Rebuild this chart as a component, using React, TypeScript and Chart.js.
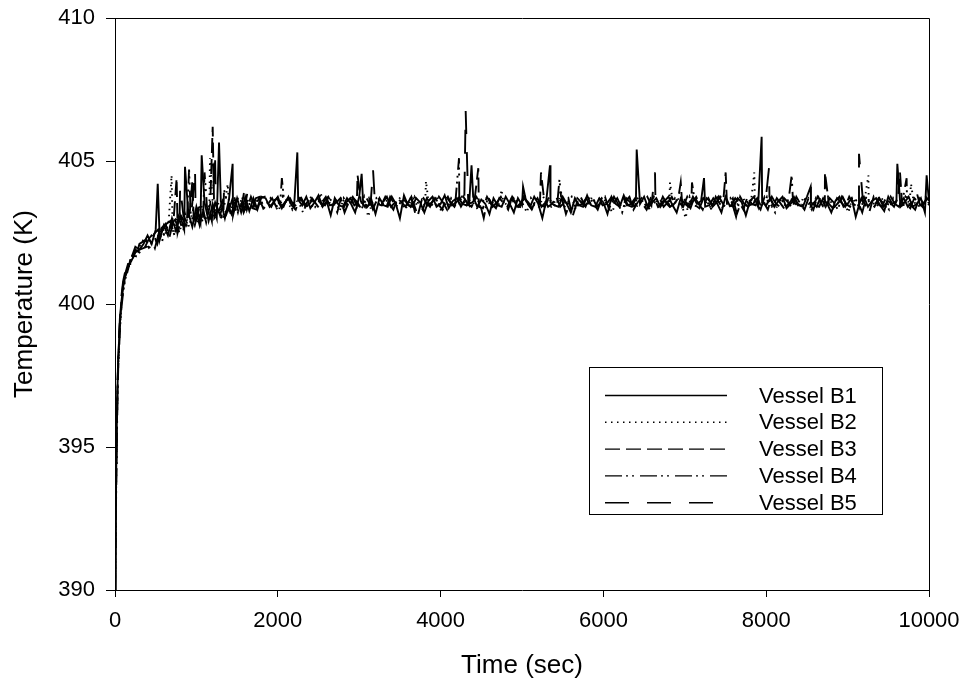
import React, { useEffect, useRef } from "react";
import { Chart, registerables } from "chart.js";

Chart.register(...registerables);

// ---- data ----
const TIMES_EARLY = [0, 10, 20, 30, 40, 60, 80, 100, 130, 160, 200, 250, 300];
const TIME_STEP = 50; // regular sampling after 300 s
const TIME_END = 10000;
const SAMPLE_OFFSETS = [0, 10, 20, 30, 40]; // per-vessel logging offset (s) after 300 s

const LABELS = ["Vessel B1", "Vessel B2", "Vessel B3", "Vessel B4", "Vessel B5"];
const X_TICKS = [0, 2000, 4000, 6000, 8000, 10000];
const Y_TICKS = [390, 395, 400, 405, 410];

// base traces on the sampling grid
const B1 = [
  390.0, 393.0, 395.4, 397.0, 398.0, 399.3, 400.1, 400.6, 401.0, 401.3, 401.5, 401.8, 401.9,
  402.1, 402.4, 402.1, 402.6, 402.25, 402.75, 402.4, 403.0, 402.55, 403.1,
  402.6, 403.2, 402.7, 403.4, 402.85, 403.55, 402.9, 403.5, 403.0, 403.6,
  403.0, 403.65, 403.1, 403.7, 403.2, 403.75, 403.25, 403.7, 403.3, 403.75,
  403.7, 403.4, 403.55, 403.75, 403.35, 403.6, 403.7, 403.4, 403.65, 403.45,
  403.75, 403.35, 403.55, 403.8, 403.4, 403.6, 403.1, 403.7, 403.45, 403.4,
  403.7, 403.5, 403.2, 403.75, 403.45, 403.4, 403.65, 403.15, 403.7, 403.45,
  403.4, 403.75, 403.5, 403.0, 403.8, 403.45, 403.4, 403.7, 403.55, 403.2,
  403.6, 403.75, 403.4, 403.5, 403.8, 403.35, 403.6, 403.7, 403.4, 403.65,
  403.45, 403.75, 403.4, 403.65, 403.5, 403.15, 403.7, 403.45, 403.4, 403.75,
  403.5, 403.2, 403.7, 403.45, 403.6, 403.4, 403.75, 403.5, 403.0, 403.65,
  403.55, 403.45, 403.4, 403.75, 403.5, 403.2, 403.7, 403.45, 403.4, 403.8,
  403.45, 403.4, 403.7, 403.55, 403.15, 403.75, 403.5, 403.4, 403.8, 403.45,
  403.4, 403.7, 403.5, 403.75, 403.35, 403.55, 403.7, 403.4, 403.6, 403.75,
  403.45, 403.2, 403.7, 403.5, 403.4, 403.75, 403.5, 403.6, 403.4, 403.45,
  403.7, 403.5, 403.2, 403.75, 403.45, 403.4, 403.7, 403.55, 403.1, 403.6,
  403.75, 403.4, 403.55, 403.45, 403.7, 403.4, 403.6, 403.75, 403.35, 403.5,
  403.7, 403.45, 403.4, 403.75, 403.55, 403.45, 403.4, 403.7, 403.5, 403.2,
  403.6, 403.75, 403.4, 403.5, 403.7, 403.05, 403.55, 403.75, 403.4, 403.6,
  403.7, 403.45, 403.25, 403.75, 403.5, 403.6, 403.4, 403.55, 403.75, 403.4,
  403.5, 403.7, 403.2, 403.6,
];

const B2 = [
  390.0, 392.6, 395.0, 396.8, 397.9, 399.2, 400.0, 400.5, 400.9, 401.2, 401.6, 401.7, 402.0,
  402.3, 402.0, 402.5, 402.2, 402.7, 402.35, 402.9, 402.45, 403.0, 402.6,
  403.15, 402.7, 403.3, 402.8, 403.45, 402.9, 403.5, 403.05, 403.6, 403.1,
  403.65, 403.1, 403.7, 403.2, 403.75, 403.25, 403.7, 403.3, 403.75, 403.35,
  403.45, 403.7, 403.45, 403.25, 403.75, 403.5, 403.4, 403.65, 403.55, 403.2,
  403.55, 403.75, 403.4, 403.6, 403.45, 403.7, 403.4, 403.6, 403.25, 403.7,
  403.45, 403.65, 403.5, 403.4, 403.75, 403.05, 403.55, 403.7, 403.4, 403.5,
  403.7, 403.4, 403.55, 403.75, 403.3, 403.5, 403.7, 403.45, 403.6, 403.45,
  403.4, 403.55, 403.75, 403.2, 403.5, 403.7, 403.4, 403.6, 403.75, 403.4,
  403.65, 403.5, 403.3, 403.55, 403.75, 403.45, 403.6, 403.4, 403.7, 403.45,
  403.55, 403.75, 403.4, 403.5, 403.2, 403.7, 403.45, 403.4, 403.75, 403.5,
  403.4, 403.6, 403.7, 403.35, 403.55, 403.75, 403.3, 403.6, 403.5, 403.4,
  403.75, 403.5, 403.4, 403.65, 403.45, 403.2, 403.7, 403.5, 403.4, 403.75,
  403.5, 403.4, 403.7, 403.45, 403.3, 403.75, 403.55, 403.4, 403.65, 403.5,
  403.4, 403.7, 403.5, 403.0, 403.75, 403.45, 403.4, 403.7, 403.55, 403.4,
  403.6, 403.75, 403.4, 403.5, 403.7, 403.3, 403.55, 403.75, 403.45, 403.5,
  403.7, 403.55, 403.4, 403.75, 403.45, 403.2, 403.7, 403.5, 403.4, 403.65,
  403.5, 403.4, 403.75, 403.55, 403.3, 403.7, 403.45, 403.4, 403.75, 403.5,
  403.4, 403.7, 403.55, 403.2, 403.75, 403.5, 403.4, 403.65, 403.45, 403.55,
  403.4, 403.75, 403.5, 403.3, 403.7, 403.45, 403.4, 403.75, 403.5, 403.6,
  403.4, 403.55, 403.75, 403.45,
];

const B3 = [
  390.0, 392.8, 395.2, 396.9, 398.1, 399.4, 400.2, 400.7, 401.1, 401.4, 401.4, 401.9, 401.8,
  402.0, 402.3, 402.45, 402.1, 402.65, 402.8, 402.35, 402.95, 402.5, 403.05,
  402.75, 403.25, 402.8, 403.35, 403.45, 402.85, 403.5, 403.0, 403.2, 403.6,
  403.15, 403.6, 403.7, 403.2, 403.65, 403.3, 403.75, 403.4, 403.7, 403.35,
  403.55, 403.4, 403.7, 403.5, 403.4, 403.75, 403.45, 403.3, 403.7, 403.55,
  403.4, 403.7, 403.5, 403.3, 403.6, 403.75, 403.45, 403.55, 403.7, 403.2,
  403.55, 403.75, 403.45, 403.6, 403.4, 403.7, 403.3, 403.5, 403.45, 403.75,
  403.5, 403.3, 403.7, 403.55, 403.4, 403.75, 403.5, 403.1, 403.65, 403.55,
  403.4, 403.7, 403.5, 403.3, 403.75, 403.55, 403.4, 403.7, 403.5, 403.45,
  403.55, 403.7, 403.4, 403.35, 403.75, 403.5, 403.3, 403.7, 403.55, 403.4,
  403.7, 403.45, 403.4, 403.75, 403.5, 403.3, 403.65, 403.5, 403.7, 403.4,
  403.5, 403.75, 403.4, 403.55, 403.7, 403.05, 403.5, 403.75, 403.45, 403.55,
  403.7, 403.4, 403.55, 403.75, 403.3, 403.5, 403.7, 403.4, 403.6, 403.75,
  403.3, 403.55, 403.7, 403.45, 403.5, 403.75, 403.4, 403.55, 403.7, 403.4,
  403.5, 403.7, 403.4, 403.55, 403.35, 403.75, 403.5, 403.3, 403.7, 403.55,
  403.4, 403.75, 403.5, 403.35, 403.45, 403.7, 403.55, 403.3, 403.75, 403.5,
  403.45, 403.7, 403.55, 403.3, 403.75, 403.5, 403.4, 403.7, 403.55, 403.35,
  403.75, 403.5, 403.3, 403.7, 403.55, 403.4, 403.75, 403.45, 403.5, 403.35,
  403.7, 403.55, 403.4, 403.75, 403.5, 403.4, 403.7, 403.45, 403.25, 403.75,
  403.5, 403.4, 403.7, 403.55, 403.4, 403.75, 403.45, 403.5, 403.35, 403.7,
  403.55, 403.4, 403.7, 403.5,
];

const B4 = [
  390.0, 392.4, 394.8, 396.6, 397.8, 399.1, 399.9, 400.4, 401.0, 401.2, 401.7, 401.6, 402.1,
  402.25, 401.95, 402.45, 402.6, 402.2, 402.8, 402.9, 402.4, 403.05, 402.6,
  402.65, 403.15, 402.75, 403.3, 402.85, 403.4, 402.95, 403.55, 403.1, 402.95,
  403.55, 403.15, 403.65, 403.7, 403.2, 403.65, 403.3, 403.7, 403.75, 403.35,
  403.5, 403.7, 403.4, 403.55, 403.5, 403.75, 403.3, 403.5, 403.7, 403.45,
  403.6, 403.4, 403.75, 403.5, 403.45, 403.7, 403.55, 403.2, 403.75, 403.5,
  403.4, 403.7, 403.55, 403.3, 403.75, 403.5, 403.4, 403.7, 403.55, 403.35,
  403.75, 403.5, 403.4, 403.7, 403.55, 403.4, 403.75, 403.5, 403.3, 403.7,
  403.5, 403.4, 403.75, 403.55, 403.3, 403.7, 403.5, 403.4, 403.75, 403.5,
  403.4, 403.7, 403.55, 403.0, 403.75, 403.5, 403.35, 403.7, 403.55, 403.3,
  403.75, 403.5, 403.4, 403.7, 403.55, 403.3, 403.75, 403.45, 403.4, 403.7,
  403.5, 403.4, 403.75, 403.55, 403.5, 403.3, 403.7, 403.55, 403.4, 403.75,
  403.5, 403.3, 403.7, 403.55, 403.4, 403.75, 403.5, 403.2, 403.7, 403.55,
  403.4, 403.75, 403.5, 403.3, 403.7, 403.55, 403.4, 403.75, 403.5, 403.35,
  403.7, 403.55, 403.4, 403.75, 403.5, 403.45, 403.35, 403.7, 403.55, 403.3,
  403.75, 403.5, 403.4, 403.7, 403.55, 403.05, 403.75, 403.5, 403.4, 403.7,
  403.5, 403.3, 403.75, 403.55, 403.4, 403.7, 403.5, 403.3, 403.75, 403.55,
  403.5, 403.4, 403.7, 403.55, 403.3, 403.75, 403.5, 403.4, 403.7, 403.55,
  403.3, 403.75, 403.5, 403.4, 403.7, 403.55, 403.2, 403.75, 403.5, 403.4,
  403.7, 403.55, 403.35, 403.75, 403.5, 403.4, 403.7, 403.55, 403.45, 403.3,
  403.7, 403.5, 403.4, 403.65,
];

const B5 = [
  390.0, 392.9, 395.3, 397.1, 398.2, 399.5, 400.3, 400.8, 401.2, 401.5, 401.6, 402.0, 401.9,
  402.0, 402.3, 401.95, 402.5, 402.6, 402.3, 402.8, 402.95, 402.5, 403.1,
  402.8, 403.2, 403.3, 402.75, 403.4, 403.45, 402.9, 403.5, 403.1, 403.6,
  403.2, 403.65, 403.25, 403.7, 403.3, 403.75, 403.35, 403.3, 403.7, 403.75,
  403.45, 403.55, 403.7, 403.4, 403.55, 403.75, 403.45, 403.5, 403.7, 403.4,
  403.5, 403.7, 403.4, 403.55, 403.75, 403.45, 403.5, 403.7, 403.25, 403.55,
  403.7, 403.45, 403.55, 403.75, 403.4, 403.5, 403.7, 403.45, 403.55, 403.75,
  403.4, 403.55, 403.7, 403.45, 403.5, 403.75, 403.15, 403.55, 403.7, 403.45,
  403.55, 403.7, 403.4, 403.5, 403.75, 403.45, 403.55, 403.7, 403.4, 403.5,
  403.55, 403.75, 403.45, 403.5, 403.7, 403.4, 403.55, 403.75, 403.45, 403.5,
  403.7, 403.4, 403.55, 403.75, 403.45, 403.5, 403.7, 403.4, 403.55, 403.75,
  403.45, 403.5, 403.7, 403.15, 403.55, 403.75, 403.45, 403.5, 403.7, 403.4,
  403.55, 403.75, 403.45, 403.5, 403.7, 403.4, 403.55, 403.75, 403.45, 403.5,
  403.7, 403.4, 403.55, 403.75, 403.45, 403.5, 403.7, 403.4, 403.55, 403.75,
  403.45, 403.5, 403.7, 403.4, 403.55, 403.75, 403.45, 403.5, 403.7, 403.4,
  403.55, 403.75, 403.45, 403.5, 403.7, 403.15, 403.55, 403.75, 403.45, 403.5,
  403.7, 403.4, 403.55, 403.75, 403.45, 403.5, 403.7, 403.4, 403.55, 403.75,
  403.45, 403.5, 403.7, 403.4, 403.55, 403.75, 403.45, 403.5, 403.7, 403.4,
  403.55, 403.75, 403.45, 403.5, 403.7, 403.4, 403.55, 403.75, 403.45, 403.5,
  403.7, 403.4, 403.55, 403.75, 403.45, 403.5, 403.7, 403.4, 403.55, 403.75,
  403.45, 403.55, 403.7, 403.45,
];

// isolated spikes: times (s) and peak temperatures (K)
const B1_SPIKE_T = [525, 860, 1065, 1278, 1445, 2240, 3030, 4380, 5013, 5344, 6409, 7236, 7944, 8546, 9611, 9971];
const B1_SPIKE_V = [404.2, 404.8, 405.2, 405.65, 404.9, 405.3, 404.55, 404.85, 404.1, 404.85, 405.4, 404.4, 405.85, 404.1, 404.9, 404.5];
const B2_SPIKE_T = [695, 1167, 1384, 2527, 3820, 4750, 5475, 6818, 7854, 9255, 9779];
const B2_SPIKE_V = [404.5, 405.1, 404.2, 403.9, 404.3, 404.0, 404.0, 404.25, 404.6, 404.5, 404.2];
const B3_SPIKE_T = [757, 950, 1200, 1585, 2980, 4463, 5233, 6950, 7502, 8722, 9644];
const B3_SPIKE_V = [404.4, 404.3, 406.2, 403.9, 404.5, 404.75, 404.6, 404.25, 404.6, 404.6, 404.6];
const B4_SPIKE_T = [910, 1100, 1339, 2050, 4226, 5460, 7088, 8313, 9725];
const B4_SPIKE_V = [404.7, 404.6, 404.0, 404.4, 405.1, 404.35, 404.25, 404.5, 404.4];
const B5_SPIKE_T = [800, 983, 1228, 1630, 3170, 4308, 6634, 8034, 9140, 9840];
const B5_SPIKE_V = [404.1, 404.7, 405.3, 403.95, 404.7, 406.75, 404.6, 404.75, 405.25, 404.0];

const SERIES = [B1, B2, B3, B4, B5];
const SPIKE_T = [B1_SPIKE_T, B2_SPIKE_T, B3_SPIKE_T, B4_SPIKE_T, B5_SPIKE_T];
const SPIKE_V = [B1_SPIKE_V, B2_SPIKE_V, B3_SPIKE_V, B4_SPIKE_V, B5_SPIKE_V];
const DASHES: number[][] = [[], [1.5, 4.5], [15, 6], [17, 4, 2, 4, 2, 6], [24, 18]];

function buildTimes(offset: number): number[] {
  const out = TIMES_EARLY.slice();
  let t = TIMES_EARLY[TIMES_EARLY.length - 1] + TIME_STEP;
  while (t <= TIME_END) {
    out.push(t + offset);
    t += TIME_STEP;
  }
  return out;
}

function buildPoints(times: number[], vals: number[], st: number[], sv: number[]) {
  const pts = times.map((t, k) => ({ x: t, y: vals[k] }));
  st.forEach((t, k) => pts.push({ x: t, y: sv[k] }));
  pts.sort((a, b) => a.x - b.x);
  return pts;
}

const FONT_FAMILY = "'Liberation Sans', Arial, Helvetica, sans-serif";

const framePlugin = {
  id: "frame",
  afterDatasetsDraw(chart: any) {
    const { ctx, chartArea } = chart;
    ctx.save();
    ctx.strokeStyle = "#000";
    ctx.lineWidth = 1;
    ctx.beginPath();
    ctx.moveTo(Math.round(chartArea.left) + 0.5, Math.round(chartArea.top) + 0.5);
    ctx.lineTo(Math.round(chartArea.right) + 0.5, Math.round(chartArea.top) + 0.5);
    ctx.lineTo(Math.round(chartArea.right) + 0.5, Math.round(chartArea.bottom) + 0.5);
    ctx.stroke();
    ctx.restore();
  },
};

const legendPlugin = {
  id: "boxLegend",
  afterDraw(chart: any) {
    const { ctx, chartArea } = chart;
    const left = chartArea.left + 474;
    const top = chartArea.top + 349;
    const w = 293;
    const h = 147;
    ctx.save();
    ctx.fillStyle = "#fff";
    ctx.fillRect(left, top, w, h);
    ctx.strokeStyle = "#000";
    ctx.lineWidth = 1;
    ctx.setLineDash([]);
    ctx.strokeRect(Math.round(left) + 0.5, Math.round(top) + 0.5, w, h);
    chart.data.datasets.forEach((ds: any, i: number) => {
      const y = top + 28.5 + i * 26.8;
      ctx.beginPath();
      ctx.setLineDash(ds.borderDash || []);
      ctx.strokeStyle = "#000";
      ctx.lineWidth = 1.4;
      ctx.moveTo(left + 16, y);
      ctx.lineTo(left + 138, y);
      ctx.stroke();
      ctx.setLineDash([]);
      ctx.fillStyle = "#000";
      ctx.font = `22px ${FONT_FAMILY}`;
      ctx.textAlign = "left";
      ctx.textBaseline = "middle";
      ctx.fillText(ds.label, left + 170, y + 1);
    });
    ctx.restore();
  },
};

export default function App() {
  const ref = useRef<HTMLCanvasElement | null>(null);

  useEffect(() => {
    const canvas = ref.current;
    if (!canvas) return;
    const datasets = SERIES.map((vals, i) => ({
      label: LABELS[i],
      data: buildPoints(buildTimes(SAMPLE_OFFSETS[i]), vals, SPIKE_T[i], SPIKE_V[i]),
      borderColor: "#000",
      backgroundColor: "#000",
      borderWidth: 1.9,
      borderDash: DASHES[i],
      pointRadius: 0,
      tension: 0,
      fill: false,
    }));

    const chart = new Chart(canvas, {
      type: "line",
      data: { datasets },
      plugins: [framePlugin, legendPlugin],
      options: {
        responsive: false,
        animation: false,
        devicePixelRatio: 1,
        layout: { padding: { left: 0, top: 18, right: 36, bottom: 0 } },
        plugins: {
          legend: { display: false },
          tooltip: { enabled: false },
        },
        scales: {
          x: {
            type: "linear",
            min: 0,
            max: 10000,
            afterBuildTicks: (scale: any) => {
              scale.ticks = X_TICKS.map((v) => ({ value: v }));
            },
            afterFit: (scale: any) => {
              scale.height = 99;
              scale.paddingLeft = 0;
              scale.paddingRight = 0;
              scale.paddingTop = 0;
              scale.paddingBottom = 0;
            },
            ticks: {
              color: "#000",
              font: { family: FONT_FAMILY, size: 22, lineHeight: 1.2 },
              padding: 11,
              maxRotation: 0,
              autoSkip: false,
              callback: (v: any) => String(v),
            },
            grid: {
              drawOnChartArea: false,
              drawTicks: true,
              tickLength: 7,
              color: "#000",
            },
            border: { display: true, color: "#000", width: 1 },
            title: {
              display: true,
              text: "Time (sec)",
              color: "#000",
              font: { family: FONT_FAMILY, size: 26, lineHeight: 1.2 },
              padding: { top: 0, bottom: 8 },
            },
          },
          y: {
            type: "linear",
            min: 390,
            max: 410,
            afterBuildTicks: (scale: any) => {
              scale.ticks = Y_TICKS.map((v) => ({ value: v }));
            },
            afterFit: (scale: any) => {
              scale.width = 115;
              scale.paddingLeft = 0;
              scale.paddingRight = 0;
              scale.paddingTop = 0;
              scale.paddingBottom = 0;
            },
            ticks: {
              color: "#000",
              font: { family: FONT_FAMILY, size: 22, lineHeight: 1.2 },
              padding: 11,
              autoSkip: false,
              callback: (v: any) => String(v),
            },
            grid: {
              drawOnChartArea: false,
              drawTicks: true,
              tickLength: 9,
              color: "#000",
            },
            border: { display: true, color: "#000", width: 1 },
            title: {
              display: true,
              text: "Temperature (K)",
              color: "#000",
              font: { family: FONT_FAMILY, size: 26, lineHeight: 1.2 },
              padding: { top: 9, bottom: 0 },
            },
          },
        },
      },
    });
    return () => chart.destroy();
  }, []);

  return (
    <div style={{ position: "absolute", left: 0, top: 0, width: 965, height: 689, background: "#fff" }}>
      <canvas ref={ref} width={965} height={689} style={{ display: "block", width: 965, height: 689 }} />
    </div>
  );
}
